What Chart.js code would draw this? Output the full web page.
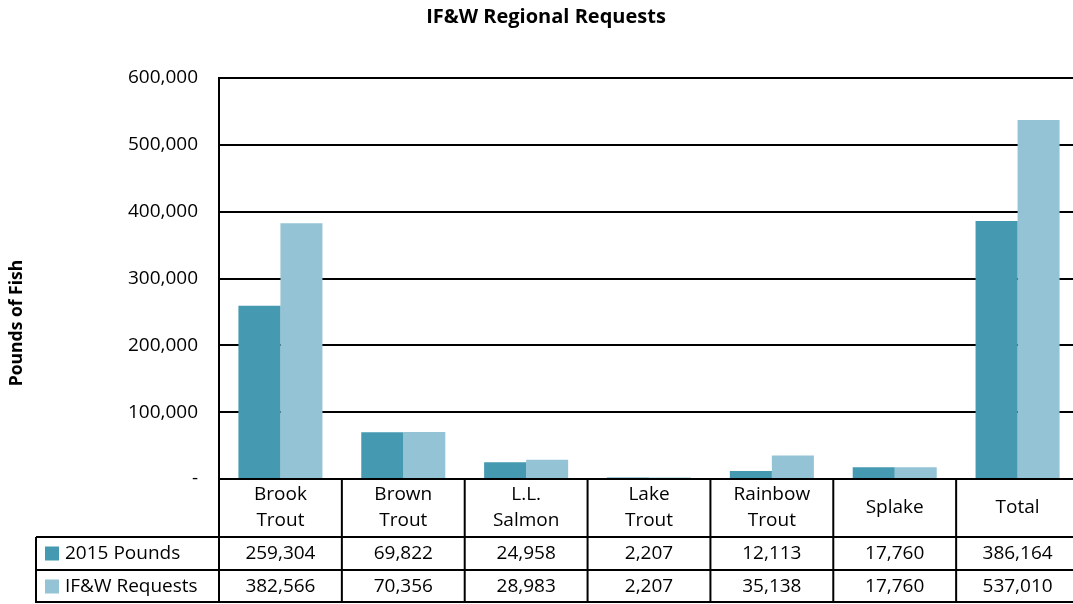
<!DOCTYPE html>
<html>
<head>
<meta charset="utf-8">
<script src="https://cdn.jsdelivr.net/npm/chart.js@4.4.1/dist/chart.umd.min.js"></script>
<style>
  html, body { margin: 0; padding: 0; background: #fff; overflow: hidden; }
  #wrap { width: 1073px; height: 604px; overflow: hidden; }
</style>
</head>
<body>
<div id="wrap"><canvas id="c" width="1079" height="604"></canvas></div>
<script>
const chartTitle = "IF&W Regional Requests";
const yAxisTitle = "Pounds of Fish";
const categories = [["Brook", "Trout"], ["Brown", "Trout"], ["L.L.", "Salmon"], ["Lake", "Trout"], ["Rainbow", "Trout"], ["Splake"], ["Total"]];
const seriesNames = ["2015 Pounds", "IF&W Requests"];
const pounds2015 = [259304, 69822, 24958, 2207, 12113, 17760, 386164];
const ifwRequests = [382566, 70356, 28983, 2207, 35138, 17760, 537010];
const yTickValues = [0, 100000, 200000, 300000, 400000, 500000, 600000];
const seriesColors = ["#4599B0", "#93C3D5"];

const FONT = "'Open Sans', 'DejaVu Sans', sans-serif";
const fmt = v => v.toLocaleString('en-US');

const decorPlugin = {
  id: 'decor',
  afterDraw(chart) {
    const ctx = chart.ctx;
    const area = chart.chartArea;
    const n = categories.length;
    const catW = (area.right - area.left) / n;
    const tableLeft = 36;
    const headerH = 58, rowH = 33;
    const y0 = area.bottom;
    const y1 = y0 + headerH, y2 = y1 + rowH, y3 = y2 + rowH;
    ctx.save();
    // title
    ctx.fillStyle = '#000';
    ctx.font = "bold 20px " + FONT;
    ctx.textAlign = 'center';
    ctx.textBaseline = 'middle';
    ctx.fillText(chartTitle, 546, 17);
    // y axis title
    ctx.save();
    ctx.translate(17, 323);
    ctx.rotate(-Math.PI / 2);
    ctx.font = "bold 17.5px " + FONT;
    ctx.fillText(yAxisTitle, 0, 0);
    ctx.restore();

    // table lines
    ctx.strokeStyle = '#000';
    ctx.lineWidth = 2;
    ctx.beginPath();
    ctx.moveTo(area.left, y0); ctx.lineTo(chart.width, y0);
    [y1, y2, y3 - 1].forEach(y => { ctx.moveTo(tableLeft, y); ctx.lineTo(chart.width, y); });
    ctx.moveTo(tableLeft, y1); ctx.lineTo(tableLeft, y3);
    for (let i = 0; i < n; i++) {
      const x = area.left + i * catW;
      ctx.moveTo(x, i === 0 ? area.top : y0); ctx.lineTo(x, y3);
    }
    ctx.stroke();

    // category labels
    ctx.font = "19px " + FONT;
    ctx.textAlign = 'center';
    ctx.textBaseline = 'middle';
    const xs = chart.scales.x;
    categories.forEach((lines, i) => {
      const cx = xs.getPixelForValue(i);
      const cy = y0 + headerH / 2;
      const lh = 26;
      lines.forEach((t, j) => {
        ctx.fillText(t, cx, cy + (j - (lines.length - 1) / 2) * lh);
      });
    });
    // data rows
    const rows = [pounds2015, ifwRequests];
    rows.forEach((vals, r) => {
      const cy = y1 + rowH * r + rowH / 2;
      ctx.fillStyle = seriesColors[r];
      ctx.fillRect(45, cy - 7, 14, 14);
      ctx.fillStyle = '#000';
      ctx.textAlign = 'left';
      ctx.fillText(seriesNames[r], 65, cy);
      ctx.textAlign = 'center';
      vals.forEach((v, i) => {
        ctx.fillText(fmt(v), xs.getPixelForValue(i), cy);
      });
    });
    ctx.restore();
  }
};

new Chart(document.getElementById('c'), {
  type: 'bar',
  data: {
    labels: categories.map(c => c.join(' ')),
    datasets: [
      { label: seriesNames[0], data: pounds2015, backgroundColor: seriesColors[0], borderWidth: 0, categoryPercentage: 0.684, barPercentage: 1 },
      { label: seriesNames[1], data: ifwRequests, backgroundColor: seriesColors[1], borderWidth: 0, categoryPercentage: 0.684, barPercentage: 1 }
    ]
  },
  options: {
    responsive: false,
    devicePixelRatio: 1,
    animation: false,
    layout: { padding: { top: 78, right: 0, bottom: 0, left: 0 } },
    plugins: { legend: { display: false }, title: { display: false }, tooltip: { enabled: false } },
    scales: {
      x: {
        grid: { display: false },
        border: { display: false },
        ticks: { display: false },
        afterFit: s => { s.height = 125; }
      },
      y: {
        min: 0, max: 600000,
        afterBuildTicks: s => { s.ticks = yTickValues.map(v => ({ value: v })); },
        ticks: {
          color: '#000',
          padding: 21,
          font: { family: FONT, size: 19 },
          callback: v => v === 0 ? '-' : fmt(v)
        },
        grid: { color: '#000', lineWidth: 2, drawTicks: false },
        border: { display: true, color: '#000', width: 2 },
        afterFit: s => { s.width = 219; }
      }
    }
  },
  plugins: [decorPlugin]
});
</script>
</body>
</html>
